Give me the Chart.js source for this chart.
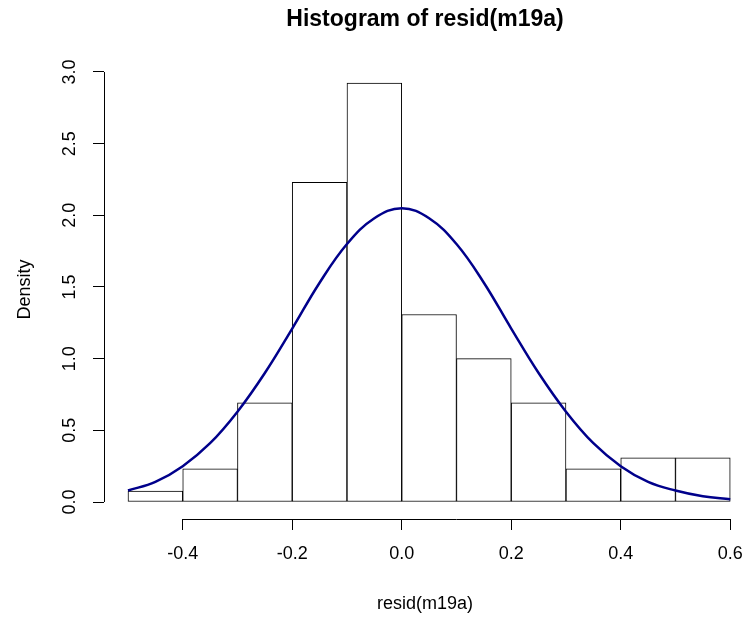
<!DOCTYPE html>
<html>
<head>
<meta charset="utf-8">
<title>Histogram of resid(m19a)</title>
<script src="https://cdn.jsdelivr.net/npm/chart.js@4/dist/chart.umd.min.js"></script>
<style>
    body { margin: 0; background: #fff; }
    #wrap { width: 746px; height: 618px; }
</style>
</head>
<body>
<div id="wrap"><canvas id="hist" width="746" height="618"></canvas></div>
<script>
// Histogram bins (break points) and their densities
const breaks = [-0.5, -0.4, -0.3, -0.2, -0.1, 0.0, 0.1, 0.2, 0.3, 0.4, 0.5, 0.6];
const densities = [0.077, 0.231, 0.692, 2.231, 2.923, 1.308, 1.0, 0.692, 0.231, 0.308, 0.308];

// Normal density curve drawn over the bars
const curveX = [-0.5, -0.45, -0.4, -0.35, -0.3, -0.25, -0.2, -0.15, -0.1, -0.05, 0.0,
                0.05, 0.1, 0.15, 0.2, 0.25, 0.3, 0.35, 0.4, 0.45, 0.5, 0.55, 0.6];
const curveY = [0.08, 0.14, 0.25, 0.41, 0.63, 0.90, 1.21, 1.53, 1.80, 1.98, 2.05,
                1.98, 1.80, 1.53, 1.21, 0.90, 0.63, 0.41, 0.25, 0.14, 0.08, 0.04, 0.02];

// Axis tick labels
const xTicks = [-0.4, -0.2, 0.0, 0.2, 0.4, 0.6];
const yTicks = [0.0, 0.5, 1.0, 1.5, 2.0, 2.5, 3.0];

const FONT = "'Liberation Sans', Arial, sans-serif";

const barData = densities.map((d, i) => ({ x: (breaks[i] + breaks[i + 1]) / 2, y: d }));
const curveData = curveX.map((x, i) => ({ x: x, y: curveY[i] }));

// R-style axes: the axis line only spans the first to last tick
const axisLines = {
    id: 'axisLines',
    afterDatasetsDraw(chart) {
        const { ctx, chartArea, scales } = chart;
        ctx.save();
        ctx.strokeStyle = '#000';
        ctx.lineWidth = 1;
        ctx.beginPath();
        const yb = Math.round(chartArea.bottom) + 0.5;
        ctx.moveTo(scales.x.getPixelForValue(xTicks[0]), yb);
        ctx.lineTo(scales.x.getPixelForValue(xTicks[xTicks.length - 1]), yb);
        const xl = Math.round(chartArea.left) + 0.5;
        ctx.moveTo(xl, scales.y.getPixelForValue(yTicks[0]));
        ctx.lineTo(xl, scales.y.getPixelForValue(yTicks[yTicks.length - 1]));
        ctx.stroke();
        ctx.restore();
    }
};

new Chart(document.getElementById('hist'), {
    type: 'bar',
    data: {
        datasets: [
            {
                type: 'line',
                data: curveData,
                borderColor: '#00008b',
                borderWidth: 2.5,
                pointRadius: 0,
                tension: 0.4,
                fill: false,
                order: 0
            },
            {
                data: barData,
                backgroundColor: '#ffffff',
                borderColor: '#000',
                borderWidth: 1,
                borderSkipped: false,
                barPercentage: 1,
                categoryPercentage: 1,
                order: 1
            }
        ]
    },
    options: {
        responsive: false,
        animation: false,
        layout: { padding: 0 },
        plugins: {
            legend: { display: false },
            tooltip: { enabled: false },
            title: {
                display: true,
                text: 'Histogram of resid(m19a)',
                fullSize: false,
                color: '#000',
                font: { family: FONT, size: 23, weight: 'bold' },
                padding: { top: 6, bottom: 26.4 }
            }
        },
        scales: {
            x: {
                type: 'linear',
                min: -0.5438,
                max: 0.6288,
                offset: false,
                afterBuildTicks: s => { s.ticks = xTicks.map(v => ({ value: v })); },
                afterFit: s => { s.height = 99; s.paddingLeft = 0; s.paddingRight = 0; },
                grid: { offset: false, drawOnChartArea: false, color: '#000', tickLength: 11 },
                border: { display: false },
                ticks: {
                    color: '#000',
                    padding: 13,
                    maxRotation: 0,
                    font: { family: FONT, size: 18 },
                    callback: v => v.toFixed(1)
                },
                title: {
                    display: true,
                    text: 'resid(m19a)',
                    color: '#000',
                    font: { family: FONT, size: 18 },
                    padding: { top: 0, bottom: 3 }
                }
            },
            y: {
                min: -0.1186,
                max: 3.0837,
                afterBuildTicks: s => { s.ticks = yTicks.map(v => ({ value: v })); },
                afterFit: s => { s.width = 104; s.paddingTop = 0; s.paddingBottom = 0; },
                grid: { drawOnChartArea: false, color: '#000', tickLength: 11 },
                border: { display: false },
                ticks: {
                    color: '#000',
                    padding: 10.5,
                    minRotation: 90,
                    maxRotation: 90,
                    crossAlign: 'center',
                    font: { family: FONT, size: 18 },
                    callback: v => v.toFixed(1)
                },
                title: {
                    display: true,
                    text: 'Density',
                    color: '#000',
                    font: { family: FONT, size: 18 },
                    padding: { top: 14, bottom: 0 }
                }
            }
        }
    },
    plugins: [axisLines]
});
</script>
</body>
</html>
